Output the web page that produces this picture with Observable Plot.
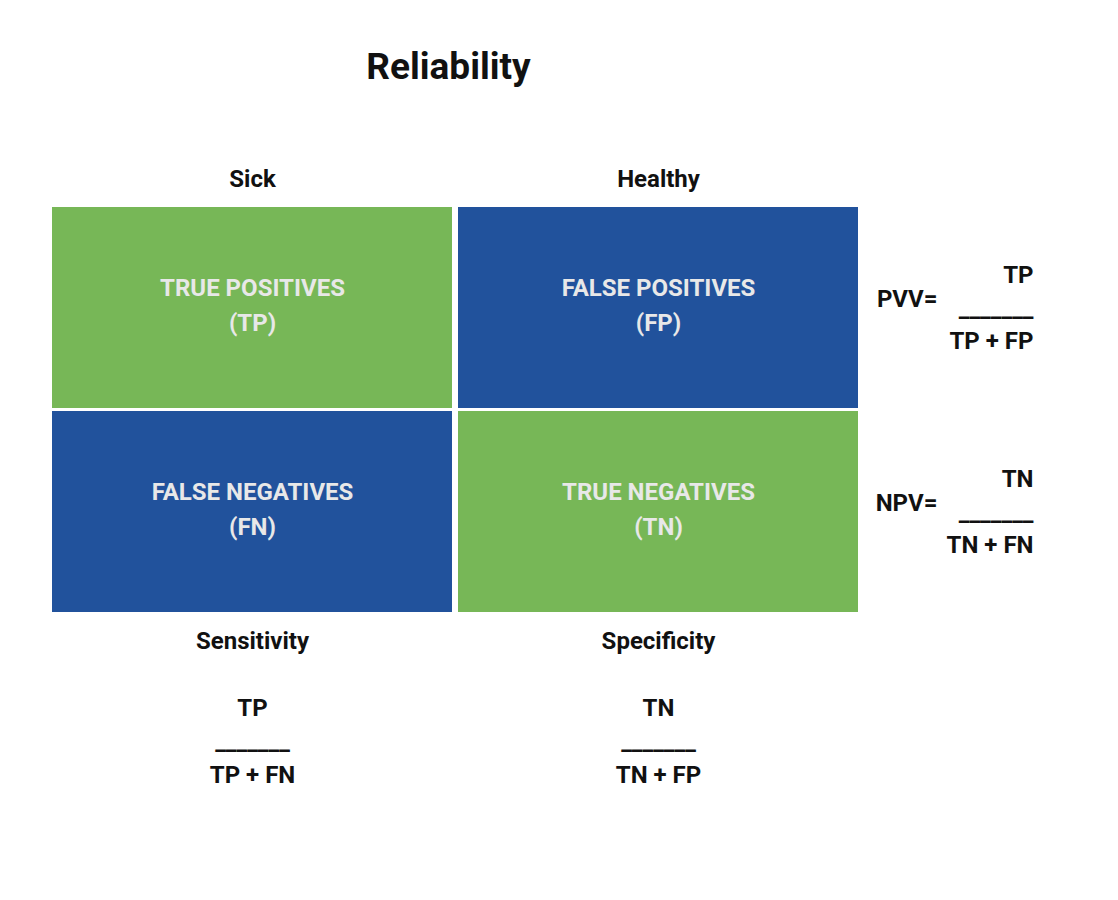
<!DOCTYPE html>
<html><head><meta charset="utf-8">
<script src="https://cdn.jsdelivr.net/npm/d3@7"></script>
<script src="https://cdn.jsdelivr.net/npm/@observablehq/plot@0.6"></script>
<style>body{margin:0;background:#fff;font-family:Roboto,sans-serif}</style>
</head><body><div id="chart"></div>
<script>
const columns = ["Sick", "Healthy"];
const rows = ["Positive", "Negative"];
const cellColumn = ["Sick", "Healthy", "Sick", "Healthy"];
const cellRow = ["Positive", "Positive", "Negative", "Negative"];
const cellName = ["TRUE POSITIVES", "FALSE POSITIVES", "FALSE NEGATIVES", "TRUE NEGATIVES"];
const cellAbbr = ["(TP)", "(FP)", "(FN)", "(TN)"];
const cellKind = ["true", "false", "false", "true"];
const colMetric = ["Sensitivity", "Specificity"];
const colNum = ["TP", "TN"];
const colDen = ["TP + FN", "TN + FP"];
const rowMetric = ["PVV=", "NPV="];
const rowNum = ["TP", "TN"];
const rowDen = ["TP + FP", "TN + FN"];

const cells = cellName.map((n, i) => ({col: cellColumn[i], row: cellRow[i], label: n + "\n" + cellAbbr[i], kind: cellKind[i]}));
const colsData = columns.map((c, i) => ({col: c, metric: colMetric[i], num: colNum[i], den: colDen[i]}));
const rowsData = rows.map((r, i) => ({row: r, metric: rowMetric[i], num: rowNum[i], den: rowDen[i]}));
const bar = "_______";
const T = {fontFamily: "Roboto", fontWeight: "bold", fill: "#111"};

const plot = Plot.plot({
  width: 1118, height: 900,
  marginLeft: 52, marginRight: 260, marginTop: 207, marginBottom: 288,
  style: {fontFamily: "Roboto", background: "#fff"},
  x: {domain: columns, paddingInner: 0.0148, paddingOuter: 0, axis: null},
  y: {domain: rows, paddingInner: 0.0148, paddingOuter: 0, axis: null},
  color: {domain: ["true", "false"], range: ["#77b757", "#21529c"]},
  marks: [
    Plot.cell(cells, {x: "col", y: "row", fill: "kind"}),
    Plot.text(cells, {x: "col", y: "row", text: "label", fill: "#e8e8e8", fontSize: 24, fontWeight: "bold", lineHeight: 1.45, dy: -6}),
    Plot.text(["Reliability"], {frameAnchor: "top", dy: -155, dx: -7, fontSize: 37, ...T}),
    Plot.text(colsData, {x: "col", frameAnchor: "top", dy: -38, text: "col", fontSize: 24, ...T}),
    Plot.text(colsData, {x: "col", frameAnchor: "bottom", dy: 36, text: "metric", fontSize: 24, ...T}),
    Plot.text(colsData, {x: "col", frameAnchor: "bottom", dy: 103, text: "num", fontSize: 24, ...T}),
    Plot.text(colsData, {x: "col", frameAnchor: "bottom", dy: 136, text: () => bar, fontSize: 24, ...T}),
    Plot.text(colsData, {x: "col", frameAnchor: "bottom", dy: 170, text: "den", fontSize: 24, ...T}),
    Plot.text(rowsData, {y: "row", frameAnchor: "right", dx: 79, dy: -9, text: "metric", fontSize: 24, ...T}),
    Plot.text(rowsData, {y: "row", frameAnchor: "right", dx: 175, dy: -33, text: "num", fontSize: 24, ...T}),
    Plot.text(rowsData, {y: "row", frameAnchor: "right", dx: 175, dy: 0, text: () => bar, fontSize: 24, ...T}),
    Plot.text(rowsData, {y: "row", frameAnchor: "right", dx: 175, dy: 33, text: "den", fontSize: 24, ...T})
  ]
});
document.getElementById("chart").append(plot);
</script></body></html>
